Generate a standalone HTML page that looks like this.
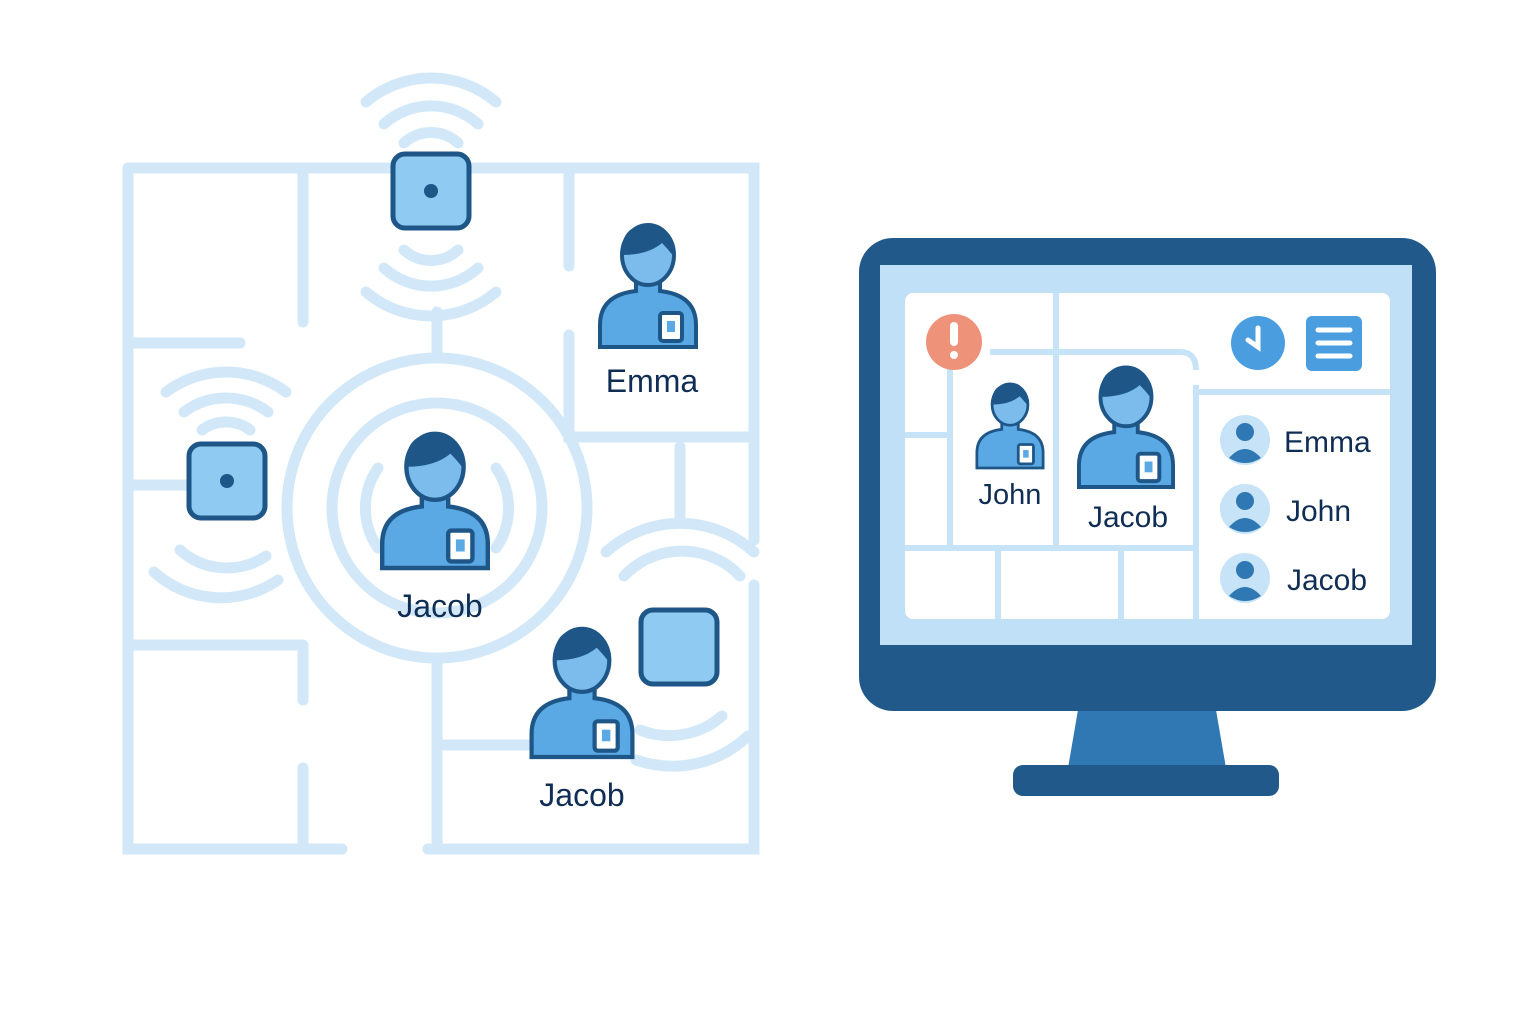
<!DOCTYPE html>
<html><head><style>body{margin:0;background:#fff}svg{display:block}text{font-family:"Liberation Sans",sans-serif;fill:#102d55}</style></head><body>
<svg width="1536" height="1024" viewBox="0 0 1536 1024" xmlns="http://www.w3.org/2000/svg">
<defs>
<g id="person">
 <path d="M-48,0 L-48,-22 Q-48,-52 -12,-56 L-12,-64 L12,-64 L12,-56 Q48,-52 48,-22 L48,0 Z" fill="#5aa8e4" stroke="#1e5688" stroke-width="4"/>
 <ellipse cx="0" cy="-92" rx="26" ry="30" fill="#7cbcec" stroke="#1e5688" stroke-width="4"/>
 <path d="M-26,-92 Q-28,-122 0,-122 Q27,-122 26,-90 Q20,-98 14,-104 Q0,-92 -26,-92Z" fill="#1e5688"/>
 <rect x="12" y="-34" width="22" height="28" rx="3" fill="#fff" stroke="#1e5688" stroke-width="4"/>
 <rect x="19" y="-26" width="8" height="11" fill="#5aa8e4"/>
</g>
<g id="dev"><rect x="-38" y="-37" width="76" height="74" rx="12" fill="#8ecaf2" stroke="#1e5688" stroke-width="5"/></g>
</defs>
<g fill="none" stroke="#d2e8f9" stroke-width="11" stroke-linecap="round">
 <path d="M128,168 H754 V540 M754,585 V849 H428 M342,849 H128 V168"/>
 <path d="M303,175 V322 M303,645 V700 M303,768 V843 M128,343 H240 M128,485 H185 M569,175 V266 M569,335 V437 H754 M680,447 V520 M128,645 H303 M437,312 V358 M437,660 V843 M437,745 H528"/>
 <circle cx="437" cy="508" r="150"/><circle cx="437" cy="508" r="105"/>
 <path d="M378,548 A70,70 0 0 1 378,468 M496,468 A70,70 0 0 1 496,548"/>
 <path d="M366,102 A100,100 0 0 1 496,102 M384,124 A70,70 0 0 1 478,124 M404,143 A40,40 0 0 1 458,143"/>
 <path d="M366,292 A100,100 0 0 0 496,292 M384,268 A70,70 0 0 0 478,268 M404,250 A40,40 0 0 0 458,250"/>
 <path d="M166,392 A100,100 0 0 1 286,392 M184,412 A70,70 0 0 1 268,412 M202,430 A40,40 0 0 1 250,430"/>
 <path d="M154,572 A100,100 0 0 0 278,580 M180,550 A70,70 0 0 0 266,556"/>
 <path d="M606,552 A110,110 0 0 1 754,552 M624,576 A80,80 0 0 1 740,576"/>
 <path d="M640,730 A80,80 0 0 0 722,716 M636,760 A110,110 0 0 0 748,736"/>
</g>
<use href="#dev" x="431" y="191"/><circle cx="431" cy="191" r="7" fill="#1e5688"/>
<use href="#dev" x="227" y="481"/><circle cx="227" cy="481" r="7" fill="#1e5688"/>
<use href="#dev" x="679" y="647"/>
<use href="#person" transform="translate(648 347)"/>
<use href="#person" transform="translate(435 568) scale(1.1)"/>
<use href="#person" transform="translate(582 757) scale(1.05)"/>
<text x="652" y="392" font-size="32" text-anchor="middle">Emma</text>
<text x="440" y="617" font-size="32" text-anchor="middle">Jacob</text>
<text x="582" y="806" font-size="32" text-anchor="middle">Jacob</text>
<!-- monitor -->
<path d="M1078,710 L1068,768 H1226 L1216,710Z" fill="#2f78b3"/>
<rect x="1013" y="765" width="266" height="31" rx="10" fill="#215a8a"/>
<rect x="859" y="238" width="577" height="473" rx="34" fill="#215a8a"/>
<rect x="880" y="265" width="532" height="380" fill="#bfe0f7"/>
<rect x="905" y="293" width="485" height="326" rx="8" fill="#fff"/>
<g fill="none" stroke="#c6e3f8" stroke-width="6">
 <path d="M1056,293 V548 M905,548 H1196 M998,548 V619 M1121,548 V619 M1196,548 V619 M1196,385 V619 M1196,392 H1390 M990,352 H1180 Q1196,352 1196,370 M950,352 V548 M905,435 H950"/>
</g>
<circle cx="954" cy="342" r="28" fill="#ef927a"/>
<rect x="950" y="322" width="8" height="24" rx="4" fill="#fff"/><circle cx="954" cy="355" r="4" fill="#fff"/>
<circle cx="1258" cy="343" r="27" fill="#4a9ee0"/>
<path d="M1258,328 V347 L1248,340" stroke="#fff" stroke-width="5" fill="none" stroke-linecap="round"/>
<rect x="1306" y="316" width="56" height="55" rx="6" fill="#4a9ee0"/>
<g stroke="#fff" stroke-width="5" stroke-linecap="round"><path d="M1318,330 H1350 M1318,343 H1350 M1318,356 H1350"/></g>
<use href="#person" transform="translate(1010 468) scale(0.69)"/>
<use href="#person" transform="translate(1126 487) scale(0.98)"/>
<text x="1010" y="504" font-size="29" text-anchor="middle">John</text>
<text x="1128" y="527" font-size="30" text-anchor="middle">Jacob</text>
<g>
 <circle cx="1245" cy="440" r="25" fill="#c6e3f8"/><circle cx="1245" cy="432" r="9" fill="#2f78b3"/><path d="M1229,458 Q1245,440 1261,458 Q1245,468 1229,458Z" fill="#2f78b3"/>
 <circle cx="1245" cy="509" r="25" fill="#c6e3f8"/><circle cx="1245" cy="501" r="9" fill="#2f78b3"/><path d="M1229,527 Q1245,509 1261,527 Q1245,537 1229,527Z" fill="#2f78b3"/>
 <circle cx="1245" cy="578" r="25" fill="#c6e3f8"/><circle cx="1245" cy="570" r="9" fill="#2f78b3"/><path d="M1229,596 Q1245,578 1261,596 Q1245,606 1229,596Z" fill="#2f78b3"/>
</g>
<text x="1284" y="452" font-size="30">Emma</text>
<text x="1286" y="521" font-size="30">John</text>
<text x="1287" y="590" font-size="30">Jacob</text>
</svg>
</body></html>
